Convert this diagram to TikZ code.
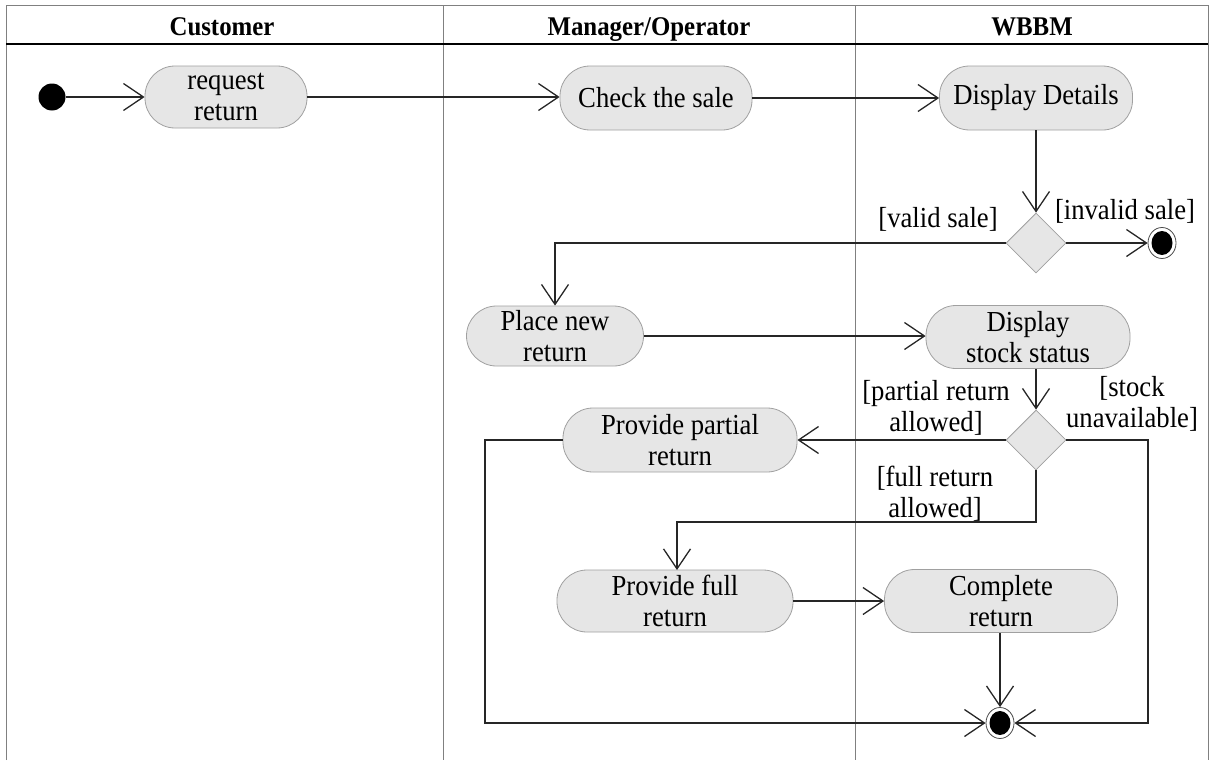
\documentclass[tikz,border=0pt]{standalone}
\usepackage{fontspec}
\setmainfont{Liberation Serif}[FakeStretch=0.92]
\usetikzlibrary{shapes.geometric,arrows.meta}
\definecolor{actfill}{HTML}{E6E6E6}
\definecolor{actline}{HTML}{A0A0A0}
\definecolor{laneline}{HTML}{808080}
\begin{document}
\begin{tikzpicture}[x=1pt,y=-1pt,
  txt/.style={font=\fontsize{29}{31}\selectfont, align=center, inner sep=0pt},
  head/.style={font=\bfseries\fontsize{27}{30}\selectfont, inner sep=0pt, anchor=base},
  action/.style={txt, draw=actline, fill=actfill, line width=0.8pt,
    rounded corners=30pt, minimum height=62pt},
  decision/.style={diamond, draw=actline, fill=actfill, line width=0.8pt,
    minimum width=60pt, minimum height=60pt, inner sep=0pt},
  startnode/.style={circle, fill=black, minimum size=27pt, inner sep=0pt},
  endnode/.style={ellipse, draw=black!70, fill=white, line width=0.8pt,
    minimum width=28pt, minimum height=31pt, inner sep=0pt,
    path picture={\fill[black] (path picture bounding box.center)
      ellipse [x radius=10.5pt, y radius=12pt];}},
  flow/.style={line width=1.6pt, draw=black!85,
    -{Straight Barb[length=20pt, width=27pt, line width=1.3pt]}},
  guard/.style={txt}
]
\useasboundingbox (0,0) rectangle (1214,760);

% swimlane frame
\draw[laneline, line width=1pt] (6,760) -- (6,6) -- (1208,6) -- (1208,760);
\draw[laneline, line width=1pt] (443,6) -- (443,760);
\draw[laneline, line width=1pt] (855,6) -- (855,760);
\draw[black, line width=2.5pt] (6,44) -- (1208,44);

\node[head] (h1) at (222,36) {Customer};
\node[head] (h2) at (649,36) {Manager/Operator};
\node[head] (h3) at (1032,36) {WBBM};

% activities
\node[startnode] (init) at (52,97) {};
\node[action, minimum width=162pt] (req) at (226,97) {request\\return};
\node[action, minimum width=192pt, minimum height=64pt] (chk) at (656,98) {Check the sale};
\node[action, minimum width=193pt, minimum height=64pt] (dd) at (1036,98) {Display Details};
\node[decision] (dec1) at (1036,243) {};
\node[endnode] (f1) at (1162,243) {};
\node[action, minimum width=177pt, minimum height=60pt] (pnr) at (555,336) {Place new\\return};
\node[action, minimum width=204pt, minimum height=63pt] (dss) at (1028,337) {Display\\stock status};
\node[decision] (dec2) at (1036,440) {};
\node[action, minimum width=234pt, minimum height=64pt] (ppr) at (680,440) {Provide partial\\return};
\node[action, minimum width=236pt] (pfr) at (675,601) {Provide full\\return};
\node[action, minimum width=233pt, minimum height=63pt] (cr) at (1001,601) {Complete\\return};
\node[endnode] (f2) at (1000,723) {};

\coordinate (loopL) at (485,723);
\coordinate (loopR) at (1148,723);

% flows
\draw[flow] (init) -- (req);
\draw[flow] (req.east) -- (req.east -| chk.west);
\draw[flow] (chk) -- (dd);
\draw[flow] (dd) -- (dec1);
\draw[flow] (dec1) -- (f1);
\draw[flow] (dec1.west) -| (pnr.north);
\draw[flow] (pnr) -- (pnr -| dss.west);
\draw[flow] (dec2.north |- dss.south) -- (dec2.north);
\draw[flow] (dec2.west) -- (ppr.east);
\draw[flow] (dec2.east) -| (loopR) -- (f2.east);
\draw[flow] (dec2.south) |- (677,522) -- (677,570);
\draw[flow] (ppr.west) -| (loopL) -- (f2.west);
\draw[flow] (pfr) -- (pfr -| cr.west);
\draw[flow] (cr.south -| f2) -- (f2.north);

% guards
\node[guard] (g1) at (1125,211) {[invalid sale]};
\node[guard] (g2) at (938,219) {[valid sale]};
\node[guard] (g3) at (936,408) {[partial return\\allowed]};
\node[guard] (g4) at (1132,404) {[stock\\unavailable]};
\node[guard] (g5) at (935,494) {[full return\\allowed]};
\end{tikzpicture}
\end{document}
